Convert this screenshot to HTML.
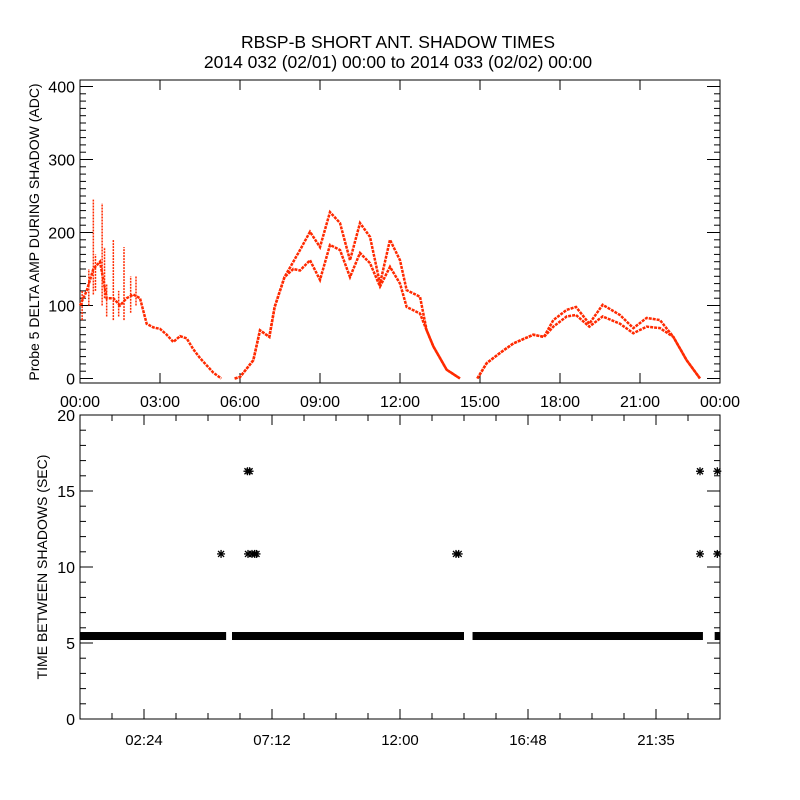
<!DOCTYPE html>
<html><head><meta charset="utf-8"><style>
body{margin:0;background:#fff}
svg{display:block}
text{font-family:"Liberation Sans",sans-serif;fill:#000}
</style></head><body>
<svg id="c" width="800" height="800">
<rect width="800" height="800" fill="#fff"/>
<text x="398" y="48" text-anchor="middle" font-size="17.5">RBSP-B SHORT ANT. SHADOW TIMES</text>
<text x="398" y="68" text-anchor="middle" font-size="17.5">2014 032 (02/01) 00:00 to 2014 033 (02/02) 00:00</text>
<text transform="translate(39,232) rotate(-90)" text-anchor="middle" font-size="14">Probe 5 DELTA AMP DURING SHADOW (ADC)</text>
<text transform="translate(47,567) rotate(-90)" text-anchor="middle" font-size="14">TIME BETWEEN SHADOWS (SEC)</text>
<g id="topg"></g>
<g id="botg"></g>
</svg>
<script>
// ---- top panel data (hours, ADC) ----
const segA_t=[0,0.25,0.5,0.75,1.0,1.25,1.5,1.75,2.0,2.25,2.5,2.75,3.0,3.25,3.5,3.75,4.0,4.25,4.5,4.75,5.0,5.3];
const segA_v=[100,120,150,160,110,110,100,110,115,110,75,70,68,60,50,58,55,40,28,18,8,0];
const segB_t=[5.8,6.0,6.5,6.75,7.1,7.3,7.67,8.0,8.25,8.625,9.0,9.375,9.75,10.125,10.5,10.875,11.25,11.625,12.0,12.25,12.75,13.0,13.25,13.75,14.25];
const segB_up=[0,2,25,66,57,98,139,160,176,201,180,228,213,162,213,194,130,190,162,121,112,66,44,12,0];
const segB_lo=[0,2,25,66,57,98,139,150,148,162,135,183,176,139,172,158,126,153,130,98,89,66,44,12,0];
const segC_t=[14.9,15.25,15.75,16.25,17.0,17.4,17.75,18.25,18.6,19.1,19.6,20.25,20.75,21.25,21.75,22.25,22.75,23.25];
const segC_up=[0,21,35,48,60,57,80,94,98,75,101,87,69,83,80,57,25,0];
const segC_lo=[0,21,35,48,60,57,71,85,87,71,85,75,62,71,69,57,25,0];
const spikeT=[0.08,0.33,0.5,0.58,0.83,0.92,1.0,1.25,1.45,1.65,1.9,2.1];
const spikeLo=[80,100,115,120,100,110,85,80,85,80,90,100];
const spikeHi=[120,150,245,170,240,180,130,190,120,180,140,140];
const topYTicks=[0,100,200,300,400];
const topXLabels=["00:00","03:00","06:00","09:00","12:00","15:00","18:00","21:00","00:00"];
// ---- bottom panel data (hours, seconds) ----
const bandStart=[0,5.7,14.72,23.8];
const bandEnd=[5.48,14.4,23.36,24];
const bandValue=[5.46,5.46,5.46,5.46];
const outT=[5.29,6.28,6.36,6.3,6.45,6.55,6.62,14.1,14.2,23.25,23.25,23.9,23.9];
const outV=[10.86,16.3,16.3,10.86,10.86,10.86,10.86,10.86,10.86,16.3,10.86,16.3,10.86];
const botYTicks=[0,5,10,15,20];
const botXTickHours=[2.4,7.2,12.0,16.8,21.6];
const botXLabels=["02:24","07:12","12:00","16:48","21:35"];

const NS="http://www.w3.org/2000/svg";
function mk(p,tag,a){const e=document.createElementNS(NS,tag);for(const k in a)e.setAttribute(k,a[k]);p.appendChild(e);return e;}
const X0=80,X1=720;
const xs=t=>X0+t/24*(X1-X0);
const TY0=80,TY1=383, ty=v=>378.5-v*0.73;
const BY0=415,BY1=719, by=v=>719-v*15.2;
const RED="#ff2a00";
const topG=document.getElementById('topg'), botG=document.getElementById('botg');

let f=mk(topG,'rect',{x:X0,y:TY0,width:X1-X0,height:TY1-TY0,fill:'none',stroke:'#000','stroke-width':1});


for(let v=0;v<=400;v+=10){
  const y=ty(v), L=(v%100===0)?13:6;
  mk(topG,'line',{x1:X0,x2:X0+L,y1:y,y2:y,stroke:'#000'});
  mk(topG,'line',{x1:X1,x2:X1-L,y1:y,y2:y,stroke:'#000'});
}
topYTicks.forEach(v=>{
  const t=mk(topG,'text',{x:75,y:ty(v)+6,'text-anchor':'end','font-size':16});t.textContent=v;
  
  
});
topXLabels.forEach((s,i)=>{
  const x=xs(i*3);
  mk(topG,'line',{x1:x,x2:x,y1:TY0,y2:TY0+10,stroke:'#000'});
  mk(topG,'line',{x1:x,x2:x,y1:TY1,y2:TY1-10,stroke:'#000'});
  const t=mk(topG,'text',{x:x,y:407,'text-anchor':'middle','font-size':16});t.textContent=s;
  
  
});
function poly(g,T,V,name){
  const p=mk(g,'polyline',{points:T.map((t,i)=>xs(t)+','+ty(V[i])).join(' '),fill:'none',stroke:RED,'stroke-width':2.5,'stroke-dasharray':'3 1'});
  
  
}
poly(topG,segA_t,segA_v,'amp-trace-a');
poly(topG,segB_t,segB_up,'amp-trace-b-upper');
poly(topG,segB_t,segB_lo,'amp-trace-b-lower');
poly(topG,segC_t,segC_up,'amp-trace-c-upper');
poly(topG,segC_t,segC_lo,'amp-trace-c-lower');
spikeT.forEach((t,i)=>{
  const l=mk(topG,'line',{x1:xs(t),x2:xs(t),y1:ty(spikeLo[i]),y2:ty(spikeHi[i]),stroke:RED,'stroke-width':1.5,'stroke-dasharray':'2 1'});
  
  
});

f=mk(botG,'rect',{x:X0,y:BY0,width:X1-X0,height:BY1-BY0,fill:'none',stroke:'#000','stroke-width':1});


for(let v=0;v<=20;v++){
  const y=by(v), L=(v%5===0)?13:6;
  mk(botG,'line',{x1:X0,x2:X0+L,y1:y,y2:y,stroke:'#000'});
  mk(botG,'line',{x1:X1,x2:X1-L,y1:y,y2:y,stroke:'#000'});
}
botYTicks.forEach(v=>{
  const t=mk(botG,'text',{x:75,y:by(v)+6,'text-anchor':'end','font-size':16});t.textContent=v;
  
  
});
for(let h=1.2;h<24;h+=1.2){
  const x=xs(h);
  mk(botG,'line',{x1:x,x2:x,y1:BY0,y2:BY0+6,stroke:'#000'});
  mk(botG,'line',{x1:x,x2:x,y1:BY1,y2:BY1-6,stroke:'#000'});
}
botXLabels.forEach((s,i)=>{
  const x=xs(botXTickHours[i]);
  mk(botG,'line',{x1:x,x2:x,y1:BY0,y2:BY0+10,stroke:'#000'});
  mk(botG,'line',{x1:x,x2:x,y1:BY1,y2:BY1-10,stroke:'#000'});
  const t=mk(botG,'text',{x:x,y:745,'text-anchor':'middle','font-size':15});t.textContent=s;
  
  
});
bandStart.forEach((s,i)=>{
  const r=mk(botG,'rect',{x:xs(s),y:by(bandValue[i])-4,width:Math.max(xs(bandEnd[i])-xs(s),2),height:8,fill:'#000'});
  
  
});
function star(g,cx,cy){
  const s=mk(g,'g',{stroke:'#000','stroke-width':1.3});
  
  
  mk(s,'line',{x1:cx-4,x2:cx+4,y1:cy,y2:cy});
  mk(s,'line',{x1:cx,x2:cx,y1:cy-4,y2:cy+4});
  mk(s,'line',{x1:cx-3,x2:cx+3,y1:cy-3,y2:cy+3});
  mk(s,'line',{x1:cx-3,x2:cx+3,y1:cy+3,y2:cy-3});
}
outT.forEach((t,i)=>star(botG,xs(t),by(outV[i])));
</script>
</body></html>
